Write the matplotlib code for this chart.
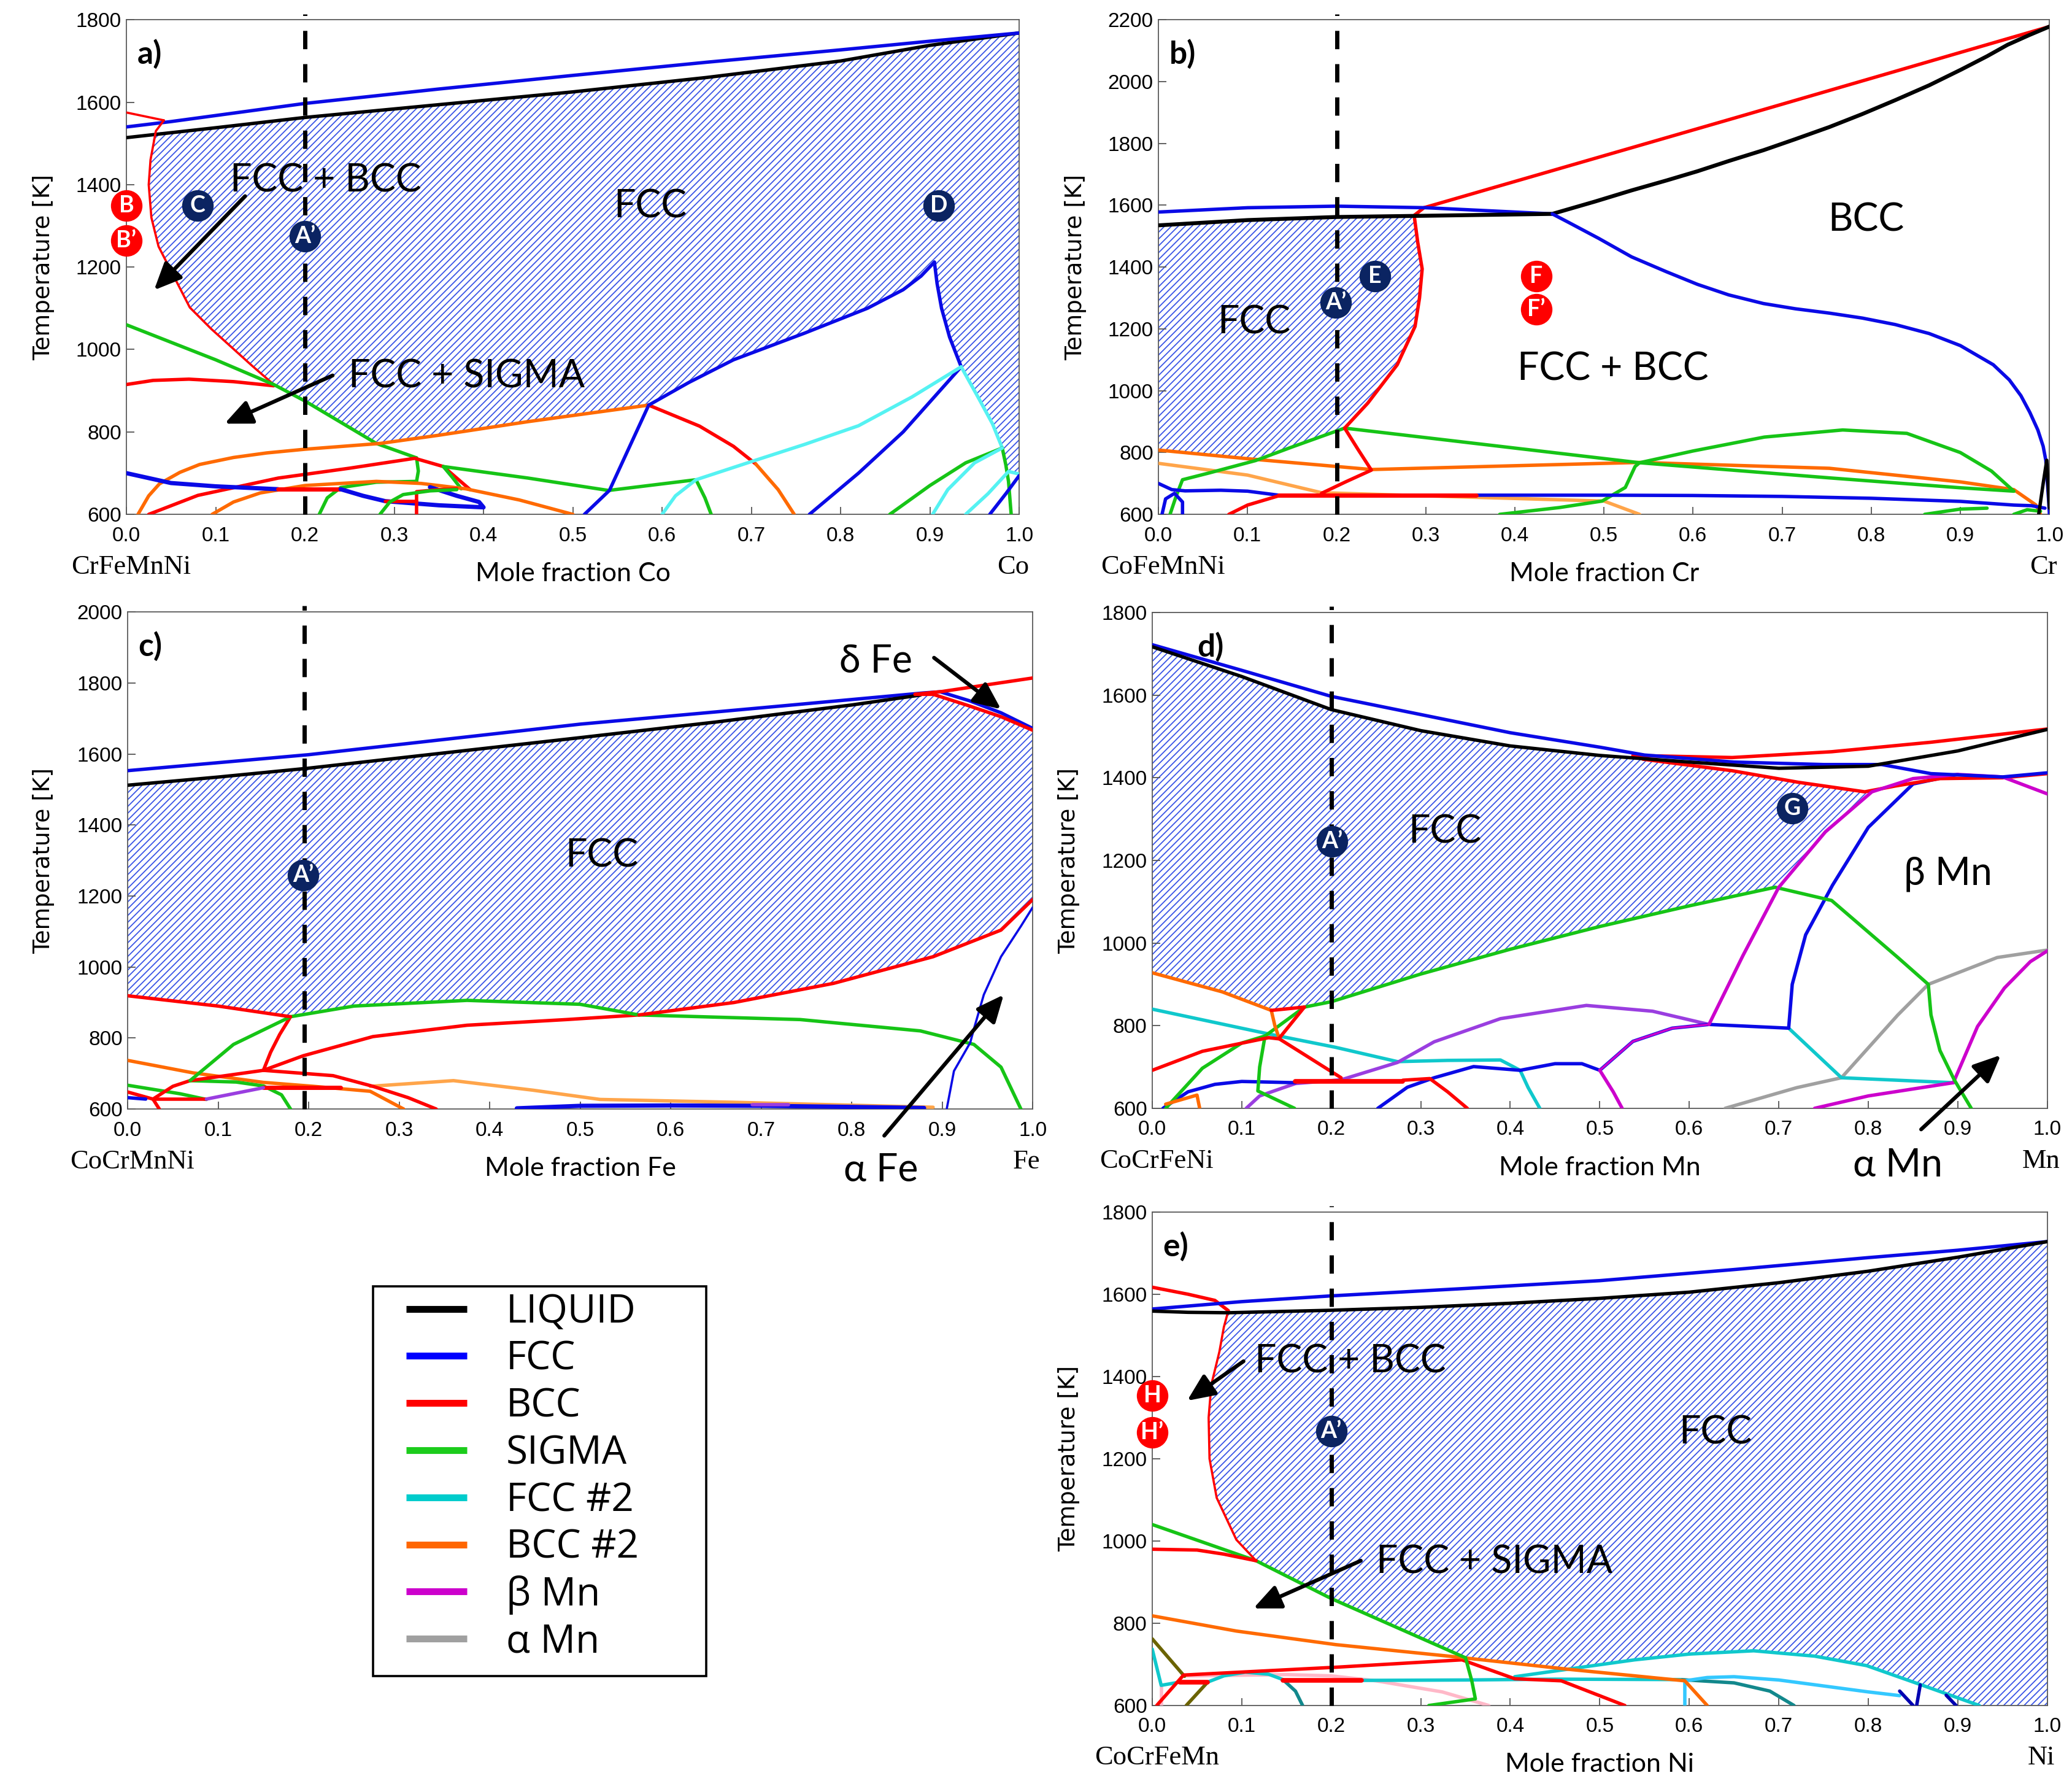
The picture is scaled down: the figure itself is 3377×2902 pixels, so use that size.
import matplotlib
matplotlib.use('Agg')
import matplotlib.pyplot as plt
from matplotlib.lines import Line2D
from matplotlib.patches import Rectangle
from matplotlib.ticker import FormatStrFormatter, MultipleLocator

# ---------------------------------------------------------------------
# values: (mole fraction, temperature K)
# ---------------------------------------------------------------------

# panel a) CrFeMnNi - Co
a_liquid = [(0, 1514), (0.1, 1538), (0.2, 1563), (0.35, 1594), (0.5, 1625), (0.65, 1660),
            (0.8, 1700), (0.9, 1738), (1, 1768)]
a_fcc_top = [(0, 1540), (0.05, 1553), (0.2, 1597), (0.35, 1632), (0.5, 1665), (0.65, 1697),
             (0.8, 1727), (0.9, 1748), (1, 1768)]
a_bcc_left = [(0, 1575), (0.042, 1556)]
a_bcc_solvus = [(0.042, 1556), (0.033, 1530), (0.027, 1460), (0.025, 1400), (0.028, 1320),
                (0.036, 1250), (0.049, 1195), (0.071, 1102), (0.095, 1050), (0.116, 1009),
                (0.14, 962), (0.165, 915)]
a_bcc_low = [(0, 915), (0.03, 925), (0.07, 928), (0.12, 922), (0.165, 912)]
a_sigma_main = [(0, 1060), (0.1, 975), (0.165, 915), (0.2, 875), (0.28, 772), (0.325, 737)]
a_sigma_vert = [(0.325, 737), (0.327, 705), (0.325, 680)]
a_sigma_arc1 = [(0.216, 600), (0.225, 640), (0.24, 665), (0.28, 678), (0.325, 680)]
a_bcc_mid = [(0.025, 600), (0.08, 646), (0.17, 688), (0.25, 712), (0.323, 736), (0.355, 716),
             (0.385, 660)]
a_sigma_right = [(0.355, 716), (0.45, 688), (0.54, 658), (0.638, 684)]
a_sigma_drop = [(0.355, 716), (0.365, 690), (0.375, 662)]
a_sigma_drop2 = [(0.638, 684), (0.648, 640), (0.655, 600)]
a_bcc2_upper = [(0.013, 600), (0.025, 645), (0.037, 674), (0.06, 702), (0.082, 721),
                (0.12, 738), (0.157, 749), (0.2, 758), (0.284, 772), (0.35, 792),
                (0.45, 825), (0.585, 865)]
a_bcc2_lower = [(0.096, 600), (0.12, 630), (0.15, 652), (0.2, 670), (0.28, 680), (0.33, 675),
                (0.38, 662), (0.44, 635), (0.5, 600)]
a_fcc_low = [(0, 700), (0.05, 676), (0.1, 668), (0.17, 661)]
a_bcc_seg = [(0.17, 661), (0.24, 661)]
a_fcc_loop = [(0.24, 661), (0.265, 645), (0.29, 632), (0.35, 622), (0.4, 617), (0.395, 630),
              (0.37, 645), (0.34, 666)]
a_bcc_small1 = [(0.29, 632), (0.325, 632)]
a_bcc_small2 = [(0.325, 600), (0.325, 655), (0.35, 660), (0.37, 662)]
a_sigma_arc2 = [(0.284, 600), (0.295, 630), (0.31, 648), (0.34, 657), (0.37, 660)]
a_fcc_mid = [(0.513, 600), (0.541, 658), (0.585, 865)]
a_bcc_arc = [(0.585, 865), (0.642, 814), (0.68, 765), (0.705, 722)]
a_bcc2_arc = [(0.705, 722), (0.73, 660), (0.748, 600)]
a_fcc_solvus = [(0.585, 865), (0.63, 920), (0.68, 975), (0.76, 1040), (0.83, 1100),
                (0.87, 1145), (0.89, 1178), (0.905, 1212)]
a_fcc_peak = [(0.905, 1212), (0.908, 1160), (0.913, 1100), (0.922, 1030), (0.935, 958)]
a_fcc_diag = [(0.935, 958), (0.87, 800), (0.82, 700), (0.765, 600)]
a_fcc2_arc = [(0.6, 600), (0.615, 645), (0.638, 684), (0.7, 728), (0.76, 770), (0.82, 815),
              (0.88, 885), (0.935, 958)]
a_fcc2_right = [(0.935, 958), (0.955, 880), (0.97, 820), (0.981, 761)]
a_sigma_arc3 = [(0.855, 600), (0.9, 670), (0.94, 725), (0.981, 761)]
a_sigma_edge = [(0.981, 761), (0.985, 720), (0.988, 680), (0.991, 600)]
a_fcc2_arc2 = [(0.903, 600), (0.92, 660), (0.95, 725), (0.981, 761)]
a_fcc2_arc3 = [(0.94, 600), (0.965, 650), (0.988, 704), (1.0, 698)]
a_fcc_edge = [(0.967, 600), (0.985, 650), (1.0, 694)]
a_fcc_region = [(0.031, 1526), (0.1, 1538), (0.2, 1563), (0.35, 1594), (0.5, 1625),
                (0.65, 1660), (0.8, 1700), (0.9, 1738), (1, 1768), (1, 698), (0.988, 704),
                (0.981, 761), (0.97, 820), (0.955, 880), (0.935, 958), (0.922, 1030),
                (0.913, 1100), (0.908, 1160), (0.905, 1212), (0.89, 1178), (0.87, 1145),
                (0.83, 1100), (0.76, 1040), (0.68, 975), (0.63, 920), (0.585, 865),
                (0.45, 825), (0.35, 792), (0.284, 772), (0.2, 875), (0.165, 915),
                (0.14, 962), (0.116, 1009), (0.095, 1050), (0.071, 1102), (0.049, 1195),
                (0.036, 1250), (0.028, 1320), (0.025, 1400), (0.027, 1460), (0.031, 1526)]
a_marks = [("B", 0.0, 1349), ("B\u2019", 0.0, 1265), ("C", 0.08, 1349),
           ("A\u2019", 0.2, 1274), ("D", 0.91, 1349)]
a_labels = [("FCC + BCC", 0.223, 1409), ("FCC", 0.587, 1347), ("FCC + SIGMA", 0.381, 935)]
a_arrows = [((0.133, 1372), (0.031, 1144)), ((0.231, 937), (0.11, 820))]

# panel b) CoFeMnNi - Cr
b_liquid = [(0, 1535), (0.1, 1552), (0.2, 1562), (0.3, 1566), (0.442, 1572), (0.49, 1612),
            (0.531, 1648), (0.57, 1680), (0.605, 1710), (0.64, 1743), (0.679, 1778),
            (0.715, 1814), (0.753, 1853), (0.79, 1895), (0.827, 1940), (0.865, 1988),
            (0.901, 2039), (0.93, 2082), (0.953, 2119), (0.977, 2150), (1, 2178)]
b_bcc_top = [(0.298, 1592), (0.65, 1885), (1, 2178)]
b_fcc_top = [(0, 1578), (0.1, 1592), (0.2, 1597), (0.3, 1592), (0.4, 1578), (0.442, 1572)]
b_bcc_solvus = [(0.298, 1592), (0.287, 1567), (0.291, 1480), (0.296, 1394), (0.293, 1300),
                (0.288, 1208), (0.268, 1084), (0.235, 960), (0.209, 879)]
b_bcc_diag = [(0.209, 879), (0.224, 810), (0.239, 743), (0.21, 705), (0.183, 668)]
b_bcc_low = [(0.135, 662), (0.357, 662)]
b_bcc_low2 = [(0.079, 600), (0.1, 630), (0.135, 660)]
b_fcc_bcc = [(0.442, 1572), (0.46, 1545), (0.494, 1493), (0.531, 1433), (0.57, 1385),
             (0.605, 1344), (0.64, 1310), (0.679, 1282), (0.715, 1265), (0.753, 1251),
             (0.79, 1235), (0.827, 1214), (0.865, 1185), (0.9, 1146), (0.937, 1084),
             (0.955, 1035), (0.968, 984), (0.978, 930), (0.987, 873), (0.993, 820),
             (0.996, 774), (0.999, 650), (1.0, 600)]
b_liq_spike = [(0.988, 600), (0.993, 700), (0.997, 775), (1.0, 620)]
b_sigma1 = [(0.013, 600), (0.02, 660), (0.027, 712), (0.057, 734), (0.109, 774), (0.15, 818),
            (0.209, 879)]
b_sigma2 = [(0.209, 879), (0.54, 767), (0.753, 718), (0.9, 686), (0.96, 675)]
b_sigma_arch = [(0.54, 767), (0.6, 805), (0.68, 850), (0.768, 873), (0.84, 862), (0.9, 800),
                (0.935, 740), (0.96, 675)]
b_sigma3 = [(0.54, 767), (0.535, 755), (0.524, 687), (0.498, 643), (0.45, 622), (0.383, 600)]
b_sigma_small1 = [(0.86, 600), (0.9, 617), (0.93, 620)]
b_sigma_small2 = [(0.96, 600), (0.975, 615), (0.99, 610)]
b_bcc2 = [(0, 808), (0.1, 780), (0.239, 745), (0.54, 768), (0.753, 749), (0.9, 705),
          (0.96, 680), (0.985, 630), (0.99, 600)]
b_bcc2_light = [(0, 765), (0.1, 727), (0.183, 670), (0.357, 655), (0.5, 643), (0.54, 600)]
b_fcc_low = [(0, 700), (0.015, 680), (0.03, 676), (0.07, 678), (0.1, 675), (0.135, 662)]
b_fcc_low2 = [(0.357, 662), (0.5, 662), (0.6, 661), (0.7, 658), (0.8, 652), (0.9, 642),
              (0.96, 630), (0.98, 628), (0.995, 620)]
b_fcc_loop = [(0.004, 600), (0.008, 650), (0.018, 668), (0.027, 640), (0.027, 600)]
b_fcc_region = [(0, 1535), (0.1, 1552), (0.2, 1562), (0.287, 1566), (0.291, 1480),
                (0.296, 1394), (0.293, 1300), (0.288, 1208), (0.268, 1084), (0.235, 960),
                (0.209, 879), (0.15, 818), (0.1, 774), (0.09, 783), (0, 808)]
b_marks = [("A\u2019", 0.199, 1285), ("E", 0.243, 1371), ("F", 0.424, 1371),
           ("F\u2019", 0.424, 1264)]
b_labels = [("FCC", 0.107, 1220), ("BCC", 0.794, 1553), ("FCC + BCC", 0.51, 1069)]

# panel c) CoCrMnNi - Fe
c_liquid = [(0, 1512), (0.1, 1535), (0.2, 1560), (0.35, 1603), (0.5, 1646), (0.65, 1690),
            (0.8, 1738), (0.876, 1766)]
c_fcc_top = [(0, 1553), (0.2, 1598), (0.5, 1684), (0.7, 1730), (0.88, 1772), (0.898, 1775),
             (0.93, 1750), (0.965, 1716), (1, 1672)]
c_bcc_top = [(0.87, 1768), (0.9, 1776), (1, 1814)]
c_bcc_delta = [(0.87, 1768), (0.89, 1768), (0.928, 1737), (0.965, 1705), (1, 1667)]
c_bcc_low = [(0, 919), (0.1, 890), (0.18, 860)]
c_bcc_fcc = [(0.565, 865), (0.67, 900), (0.78, 954), (0.89, 1029), (0.965, 1104), (1, 1190)]
c_sigma_arch = [(0.18, 860), (0.25, 890), (0.375, 906), (0.5, 895), (0.565, 865)]
c_sigma_right = [(0.565, 865), (0.743, 852), (0.876, 820), (0.935, 782), (0.965, 718),
                 (0.987, 600)]
c_sigma_left = [(0.069, 680), (0.117, 782), (0.18, 860)]
c_bcc_inner = [(0.15, 709), (0.158, 760), (0.168, 810), (0.18, 860)]
c_bcc_curve = [(0.15, 709), (0.194, 750), (0.271, 804), (0.375, 836), (0.485, 852),
               (0.565, 865)]
c_bcc_drop = [(0.15, 709), (0.227, 694), (0.271, 664), (0.31, 632), (0.341, 600)]
c_bcc_left = [(0, 648), (0.028, 628), (0.05, 664), (0.069, 680), (0.15, 709)]
c_bcc_seg1 = [(0.028, 628), (0.087, 628)]
c_bcc_seg2 = [(0.15, 660), (0.235, 660)]
c_bcc_v = [(0.028, 628), (0.035, 600)]
c_bcc2 = [(0, 737), (0.072, 702), (0.15, 675), (0.205, 664), (0.268, 650), (0.305, 600)]
c_bcc2_light = [(0.268, 664), (0.36, 680), (0.448, 653), (0.522, 627), (0.67, 619),
                (0.89, 605)]
c_sigma_low = [(0, 667), (0.058, 643), (0.087, 627)]
c_sigma_arc = [(0.069, 680), (0.12, 676), (0.15, 665), (0.17, 640), (0.18, 600)]
c_betamn1 = [(0.087, 628), (0.15, 660)]
c_betamn2 = [(0.69, 612), (0.73, 612)]
c_fcc_bottom = [(0.43, 602), (0.5, 609), (0.6, 610), (0.7, 609), (0.8, 606), (0.88, 603)]
c_fcc_low = [(0, 632), (0.02, 628)]
c_fcc_alpha = [(0.905, 600), (0.913, 707), (0.931, 787), (0.935, 825), (0.946, 922),
               (0.965, 1029), (0.987, 1115), (1, 1168)]
c_fcc_region = [(0, 1512), (0.1, 1535), (0.2, 1560), (0.35, 1603), (0.5, 1646), (0.65, 1690),
                (0.8, 1738), (0.876, 1766), (0.89, 1768), (0.928, 1737), (0.965, 1705),
                (1, 1667), (1, 1190), (0.965, 1104), (0.89, 1029), (0.78, 954), (0.67, 900),
                (0.565, 865), (0.5, 895), (0.375, 906), (0.25, 890), (0.18, 860),
                (0.1, 890), (0, 919)]
c_marks = [("A\u2019", 0.194, 1258)]
c_labels = [("FCC", 0.524, 1313), ("\u03b4 Fe", 0.827, 1861), ("\u03b1 Fe", 0.832, 428)]
c_arrows = [((0.891, 1871), (0.965, 1726)), ((0.836, 525), (0.968, 922))]

# panel d) CoCrFeNi - Mn
d_liquid = [(0, 1717), (0.1, 1645), (0.2, 1565), (0.3, 1514), (0.4, 1477), (0.5, 1454),
            (0.6, 1438), (0.7, 1423), (0.8, 1428), (0.9, 1465), (1, 1517)]
d_fcc_top = [(0, 1722), (0.1, 1660), (0.2, 1597), (0.3, 1553), (0.4, 1509), (0.5, 1474),
             (0.55, 1455), (0.65, 1438), (0.75, 1432), (0.815, 1432), (0.87, 1410),
             (0.95, 1402), (1, 1412)]
d_bcc_upper = [(0.537, 1454), (0.648, 1449), (0.759, 1463), (0.87, 1486), (1, 1518)]
d_bcc_lower = [(0.548, 1445), (0.648, 1417), (0.722, 1389), (0.796, 1366), (0.83, 1380),
               (0.88, 1398), (0.95, 1400), (1, 1410)]
d_betamn_main = [(0.622, 803), (0.66, 970), (0.7, 1135), (0.752, 1269), (0.804, 1366),
                 (0.85, 1398), (0.9, 1408), (0.95, 1402), (1, 1361)]
d_betamn_right = [(0.895, 662), (0.922, 798), (0.952, 891), (0.981, 955), (1, 981)]
d_betamn_low = [(0.74, 600), (0.8, 630), (0.895, 662)]
d_betamn_mid = [(0.5, 692), (0.537, 762), (0.581, 794), (0.622, 803)]
d_betamn_drop = [(0.5, 692), (0.515, 640), (0.525, 600)]
d_purple_arch = [(0.211, 669), (0.274, 711), (0.315, 761), (0.389, 817), (0.485, 849),
                 (0.559, 835), (0.622, 803)]
d_purple_left = [(0.105, 600), (0.12, 630), (0.16, 660), (0.211, 669)]
d_fcc_arch1 = [(0.252, 600), (0.285, 651), (0.315, 674), (0.359, 701), (0.411, 692)]
d_fcc_arch2 = [(0.411, 692), (0.45, 708), (0.48, 708), (0.5, 692)]
d_fcc_arch3 = [(0.5, 692), (0.537, 762), (0.581, 794), (0.622, 803), (0.711, 794)]
d_fcc_up = [(0.711, 794), (0.715, 900), (0.73, 1020), (0.76, 1140), (0.8, 1280),
            (0.85, 1385), (0.9, 1408)]
d_fcc_left = [(0.012, 600), (0.04, 640), (0.07, 658), (0.1, 665), (0.16, 662)]
d_sigma_main = [(0.17, 845), (0.2, 858), (0.3, 925), (0.4, 985), (0.5, 1040), (0.6, 1090),
                (0.696, 1135), (0.759, 1103), (0.833, 965), (0.867, 900), (0.87, 826),
                (0.88, 740), (0.896, 669), (0.915, 600)]
d_sigma_left = [(0.015, 600), (0.056, 697), (0.1, 758), (0.126, 775), (0.17, 845)]
d_sigma_vert = [(0.126, 775), (0.12, 700), (0.118, 642), (0.159, 600)]
d_bcc2 = [(0, 928), (0.078, 882), (0.133, 837)]
d_bcc2_v = [(0.133, 837), (0.137, 800), (0.142, 768)]
d_bcc2_small = [(0.015, 610), (0.05, 632), (0.053, 600)]
d_bcc_a = [(0.133, 837), (0.17, 845)]
d_bcc_b = [(0, 692), (0.056, 738), (0.13, 771), (0.142, 768), (0.17, 730), (0.211, 674)]
d_bcc_c = [(0.142, 770), (0.17, 845)]
d_bcc_thick = [(0.16, 665), (0.28, 665)]
d_bcc_drop = [(0.28, 668), (0.31, 672), (0.33, 640), (0.352, 600)]
d_fcc2 = [(0, 840), (0.13, 780), (0.204, 748), (0.274, 713), (0.33, 716), (0.389, 717),
          (0.411, 692), (0.42, 650), (0.433, 600)]
d_fcc2_right = [(0.711, 794), (0.77, 674), (0.895, 662)]
d_alphamn = [(0.77, 674), (0.833, 826), (0.867, 900), (0.944, 965), (1, 983)]
d_alphamn_low = [(0.64, 600), (0.68, 625), (0.72, 650), (0.77, 674)]
d_fcc_region = [(0, 1717), (0.1, 1645), (0.2, 1565), (0.3, 1514), (0.4, 1477), (0.5, 1454),
                (0.548, 1445), (0.648, 1417), (0.722, 1389), (0.796, 1366), (0.804, 1366),
                (0.752, 1269), (0.7, 1135), (0.6, 1090), (0.5, 1040), (0.4, 985),
                (0.3, 925), (0.2, 858), (0.17, 845), (0.133, 837), (0.078, 882), (0, 928)]
d_marks = [("A\u2019", 0.201, 1246), ("G", 0.715, 1326)]
d_labels = [("FCC", 0.327, 1269), ("\u03b2 Mn", 0.889, 1168), ("\u03b1 Mn", 0.833, 462)]
d_arrows = [((0.859, 549), (0.948, 729))]

# panel e) CoCrFeMn - Ni
e_liquid = [(0, 1559), (0.04, 1556), (0.085, 1555), (0.2, 1561), (0.3, 1568), (0.4, 1578),
            (0.5, 1590), (0.6, 1605), (0.7, 1628), (0.8, 1656), (0.9, 1690), (1, 1728)]
e_fcc_top = [(0, 1564), (0.1, 1582), (0.2, 1596), (0.35, 1614), (0.5, 1633), (0.65, 1660),
             (0.8, 1689), (0.9, 1707), (1, 1728)]
e_bcc_left = [(0, 1617), (0.04, 1600), (0.07, 1585), (0.085, 1560)]
e_bcc_solvus = [(0.085, 1560), (0.08, 1520), (0.075, 1460), (0.066, 1380), (0.063, 1300),
                (0.064, 1200), (0.072, 1105), (0.094, 1003), (0.116, 952)]
e_bcc_low = [(0, 980), (0.05, 978), (0.08, 968), (0.116, 952)]
e_sigma = [(0, 1040), (0.116, 952), (0.2, 860), (0.35, 716), (0.357, 660), (0.361, 616),
           (0.309, 600)]
e_bcc2 = [(0, 818), (0.094, 781), (0.205, 748), (0.331, 720), (0.465, 688), (0.595, 660),
          (0.62, 600)]
e_bcc_mid = [(0.005, 600), (0.035, 674), (0.205, 693), (0.346, 711), (0.405, 665),
             (0.457, 660), (0.528, 600)]
e_bcc_thick1 = [(0.031, 657), (0.062, 657)]
e_bcc_thick2 = [(0.146, 661), (0.234, 661)]
e_fcc2_left = [(0, 737), (0.01, 649), (0.031, 657)]
e_fcc2_arch = [(0.062, 657), (0.08, 672), (0.104, 681), (0.13, 676), (0.146, 663)]
e_fcc2_line = [(0.234, 661), (0.35, 662), (0.45, 664), (0.59, 663)]
e_fcc2_arch2 = [(0.405, 670), (0.47, 690), (0.539, 711), (0.6, 725), (0.672, 733),
                (0.74, 720), (0.798, 697), (0.858, 651), (0.924, 600)]
e_teal1 = [(0.146, 663), (0.16, 635), (0.168, 600)]
e_teal2 = [(0.59, 663), (0.65, 655), (0.69, 635), (0.717, 600)]
e_lightblue = [(0.595, 600), (0.595, 660), (0.62, 668), (0.65, 670), (0.7, 662), (0.8, 633),
               (0.835, 624)]
e_olive1 = [(0, 762), (0.036, 671)]
e_olive2 = [(0.062, 657), (0.038, 600)]
e_pink = [(0.036, 672), (0.15, 675), (0.2, 672), (0.25, 660), (0.324, 633), (0.376, 600)]
e_pink_v = [(0.01, 649), (0.01, 600)]
e_darkblue1 = [(0.835, 635), (0.85, 600)]
e_darkblue2 = [(0.858, 650), (0.854, 600)]
e_darkblue3 = [(0.887, 625), (0.898, 600)]
e_fcc_region = [(0.085, 1555), (0.2, 1561), (0.3, 1568), (0.4, 1578), (0.5, 1590),
                (0.6, 1605), (0.7, 1628), (0.8, 1656), (0.9, 1690), (1, 1728), (1, 600),
                (0.924, 600), (0.858, 651), (0.798, 697), (0.74, 720), (0.672, 733),
                (0.6, 725), (0.539, 711), (0.47, 690), (0.465, 688), (0.4, 703),
                (0.345, 717), (0.2, 860), (0.116, 952), (0.094, 1003), (0.072, 1105),
                (0.064, 1200), (0.063, 1300), (0.066, 1380), (0.075, 1460), (0.08, 1520),
                (0.085, 1555)]
e_marks = [("H", 0.0, 1353), ("H\u2019", 0.0, 1264), ("A\u2019", 0.2, 1267)]
e_labels = [("FCC + BCC", 0.221, 1437), ("FCC", 0.629, 1263), ("FCC + SIGMA", 0.382, 949)]
e_arrows = [((0.102, 1437), (0.039, 1341)), ((0.233, 952), (0.113, 836))]

legend_names = ["LIQUID", "FCC", "BCC", "SIGMA", "FCC #2", "BCC #2", "\u03b2 Mn", "\u03b1 Mn"]
legend_colors = ["#000000", "#0000ff", "#ff0000", "#1ccc1c", "#00cccc", "#ff6600",
                 "#cc00cc", "#a0a0a0"]

# ---------------------------------------------------------------------
# styling
# ---------------------------------------------------------------------
BLACK = "#000000"
BLUE = "#0a0ae6"
RED = "#ff0000"
GREEN = "#16c416"
CYAN_A = "#55f2f2"
CYAN = "#10c8cc"
ORANGE = "#ff6a00"
LORANGE = "#ffa54a"
MAGENTA = "#cc00cc"
PURPLE = "#9a3ee0"
GRAY = "#a0a0a0"
TEAL = "#12888c"
LBLUE = "#33c8ff"
OLIVE = "#6b6300"
PINK = "#ffb8c8"
DBLUE = "#0000b0"
NAVY = "#0b2462"
HATCH = "#3a55e6"
LW = 4.0
THIN = 2.6

plt.rcParams['font.family'] = ['Lato', 'DejaVu Sans']
plt.rcParams['hatch.linewidth'] = 1.3

fig = plt.figure(figsize=(33.77, 29.02), dpi=100)


def curve(ax, pts, color, lw=LW):
    xs = [p[0] for p in pts]
    ts = [p[1] for p in pts]
    ax.plot(xs, ts, color=color, lw=lw, solid_capstyle='round',
            solid_joinstyle='round', zorder=3)


def region(ax, pts):
    xs = [p[0] for p in pts]
    ts = [p[1] for p in pts]
    ax.fill(xs, ts, facecolor='none', edgecolor=HATCH, hatch='///', lw=0, zorder=1)


def setup(ax, tmax, base, element, tag, xdash=0.2, tagx=0.012):
    ax.set_xlim(0, 1)
    ax.set_ylim(600, tmax)
    ax.xaxis.set_major_locator(MultipleLocator(0.1))
    ax.xaxis.set_major_formatter(FormatStrFormatter('%.1f'))
    ax.yaxis.set_major_locator(MultipleLocator(200))
    ax.tick_params(direction='in', length=9, width=1.3, color='#555555',
                   labelsize=24, top=False, right=False)
    ax.tick_params(axis='x', pad=14)
    ax.tick_params(axis='y', pad=6)
    for lab in ax.get_xticklabels() + ax.get_yticklabels():
        lab.set_family('Liberation Sans')
    for sp in ax.spines.values():
        sp.set_color('#5a5a5a')
        sp.set_linewidth(1.3)
    ax.text(-0.093, 0.5, 'Temperature [K]', rotation=90, ha='center', va='center',
            fontsize=27, family='DejaVu Sans', transform=ax.transAxes)
    ax.text(0.5, -0.12, 'Mole fraction ' + element, ha='center', va='center',
            fontsize=31, transform=ax.transAxes)
    ax.text(0.005, -0.106, base, ha='center', va='center', fontsize=32,
            family='Liberation Serif', transform=ax.transAxes)
    ax.text(0.993, -0.106, element, ha='center', va='center', fontsize=32,
            family='Liberation Serif', transform=ax.transAxes)
    ax.text(tagx, 0.93, tag, ha='left', va='center', fontsize=37, fontweight='bold',
            transform=ax.transAxes, zorder=8)
    ax.axvline(xdash, ymax=1.012, color='k', lw=5, ls=(0, (4.3, 3.5)), zorder=5,
               clip_on=False)


def decorate(ax, marks, labels, arrows):
    for name, x, t in marks:
        col = RED if name[0] in "BFH" else NAVY
        ax.plot([x], [t], 'o', ms=37, mfc=col, mec='none', zorder=6, clip_on=False)
        ax.text(x, t, name, ha='center', va='center', color='white', fontsize=27,
                fontweight='bold', zorder=7)
    for text, x, t in labels:
        ax.text(x, t, text, ha='center', va='center', fontsize=45, zorder=6,
                clip_on=False)
    for tail, head in arrows:
        ax.annotate('', xy=head, xytext=tail, annotation_clip=False, zorder=6,
                    arrowprops=dict(arrowstyle='-|>,head_length=0.9,head_width=0.4',
                                    lw=4.5, color='k', shrinkA=0, shrinkB=0,
                                    mutation_scale=30))


# ---- a)
ax = fig.add_axes([0.0610, 0.7112, 0.4309, 0.2777])
region(ax, a_fcc_region)
for pts, col, lw in [
        (a_liquid, BLACK, LW), (a_fcc_top, BLUE, LW), (a_bcc_left, RED, THIN),
        (a_bcc_solvus, RED, THIN), (a_bcc_low, RED, LW), (a_sigma_main, GREEN, LW),
        (a_sigma_vert, GREEN, LW), (a_sigma_arc1, GREEN, LW), (a_bcc_mid, RED, LW),
        (a_sigma_right, GREEN, LW), (a_sigma_drop, GREEN, LW), (a_sigma_drop2, GREEN, LW),
        (a_bcc2_upper, ORANGE, LW), (a_bcc2_lower, ORANGE, LW), (a_fcc_low, BLUE, 5),
        (a_bcc_seg, RED, 5), (a_fcc_loop, BLUE, 5), (a_bcc_small1, RED, LW),
        (a_bcc_small2, RED, LW), (a_sigma_arc2, GREEN, LW), (a_fcc_mid, BLUE, LW),
        (a_bcc_arc, RED, LW), (a_bcc2_arc, ORANGE, LW), (a_fcc_solvus, BLUE, LW),
        (a_fcc_peak, BLUE, LW), (a_fcc_diag, BLUE, LW), (a_fcc2_arc, CYAN_A, LW),
        (a_fcc2_right, CYAN_A, LW), (a_sigma_arc3, GREEN, LW), (a_sigma_edge, GREEN, LW),
        (a_fcc2_arc2, CYAN_A, LW), (a_fcc2_arc3, CYAN_A, LW), (a_fcc_edge, BLUE, LW)]:
    curve(ax, pts, col, lw)
setup(ax, 1800, 'CrFeMnNi', 'Co', 'a)')
decorate(ax, a_marks, a_labels, a_arrows)

# ---- b)
ax = fig.add_axes([0.5591, 0.7112, 0.4300, 0.2777])
region(ax, b_fcc_region)
for pts, col, lw in [
        (b_bcc2_light, LORANGE, LW), (b_bcc2, ORANGE, LW), (b_sigma1, GREEN, LW),
        (b_sigma2, GREEN, LW), (b_sigma_arch, GREEN, LW), (b_sigma3, GREEN, LW),
        (b_sigma_small1, GREEN, LW), (b_sigma_small2, GREEN, LW), (b_fcc_low, BLUE, LW),
        (b_fcc_low2, BLUE, LW), (b_fcc_loop, BLUE, LW), (b_bcc_low, RED, 5),
        (b_bcc_low2, RED, LW), (b_bcc_diag, RED, LW), (b_bcc_solvus, RED, LW),
        (b_bcc_top, RED, LW), (b_fcc_top, BLUE, LW), (b_liquid, BLACK, 4.6),
        (b_fcc_bcc, BLUE, LW), (b_liq_spike, BLACK, LW)]:
    curve(ax, pts, col, lw)
setup(ax, 2200, 'CoFeMnNi', 'Cr', 'b)')
decorate(ax, b_marks, b_labels, [])

# ---- c)
ax = fig.add_axes([0.0616, 0.3773, 0.4368, 0.2791])
region(ax, c_fcc_region)
for pts, col, lw in [
        (c_bcc2_light, LORANGE, LW), (c_bcc2, ORANGE, LW), (c_fcc_bottom, BLUE, 5),
        (c_betamn2, PURPLE, LW), (c_sigma_low, GREEN, LW), (c_sigma_arc, GREEN, LW),
        (c_bcc_left, RED, LW), (c_bcc_seg1, RED, LW), (c_bcc_seg2, RED, 5),
        (c_bcc_v, RED, LW), (c_betamn1, PURPLE, LW), (c_fcc_low, BLUE, LW),
        (c_bcc_drop, RED, LW), (c_bcc_curve, RED, LW), (c_bcc_inner, RED, LW),
        (c_sigma_left, GREEN, LW), (c_sigma_arch, GREEN, LW), (c_sigma_right, GREEN, LW),
        (c_bcc_low, RED, LW), (c_bcc_fcc, RED, LW), (c_fcc_alpha, BLUE, THIN),
        (c_fcc_top, BLUE, LW), (c_liquid, BLACK, LW), (c_bcc_top, RED, LW),
        (c_bcc_delta, RED, LW)]:
    curve(ax, pts, col, lw)
setup(ax, 2000, 'CoCrMnNi', 'Fe', 'c)', xdash=0.195)
decorate(ax, c_marks, c_labels, c_arrows)

# ---- d)
ax = fig.add_axes([0.5561, 0.3777, 0.4320, 0.2784])
region(ax, d_fcc_region)
for pts, col, lw in [
        (d_alphamn_low, GRAY, LW), (d_alphamn, GRAY, LW), (d_fcc2, CYAN, LW),
        (d_fcc2_right, CYAN, LW), (d_purple_left, PURPLE, LW), (d_purple_arch, PURPLE, LW),
        (d_fcc_left, BLUE, LW), (d_fcc_arch1, BLUE, LW), (d_fcc_arch2, BLUE, LW),
        (d_fcc_arch3, BLUE, LW), (d_betamn_mid, MAGENTA, THIN), (d_betamn_drop, MAGENTA, LW),
        (d_betamn_low, MAGENTA, LW), (d_betamn_right, MAGENTA, LW), (d_fcc_up, BLUE, LW),
        (d_sigma_left, GREEN, LW), (d_sigma_vert, GREEN, LW), (d_sigma_main, GREEN, LW),
        (d_bcc2, ORANGE, LW), (d_bcc2_v, ORANGE, LW), (d_bcc2_small, ORANGE, LW),
        (d_bcc_a, RED, LW), (d_bcc_b, RED, LW), (d_bcc_c, RED, LW),
        (d_bcc_thick, RED, 5.5), (d_bcc_drop, RED, LW), (d_bcc_upper, RED, LW),
        (d_bcc_lower, RED, LW), (d_betamn_main, MAGENTA, LW), (d_fcc_top, BLUE, LW),
        (d_liquid, BLACK, LW)]:
    curve(ax, pts, col, lw)
setup(ax, 1800, 'CoCrFeNi', 'Mn', 'd)', tagx=0.05)
decorate(ax, d_marks, d_labels, d_arrows)

# ---- e)
ax = fig.add_axes([0.5561, 0.0424, 0.4320, 0.2771])
region(ax, e_fcc_region)
for pts, col, lw in [
        (e_pink, PINK, LW), (e_pink_v, PINK, LW), (e_olive1, OLIVE, LW),
        (e_olive2, OLIVE, LW), (e_teal1, TEAL, LW), (e_teal2, TEAL, LW),
        (e_lightblue, LBLUE, LW), (e_fcc2_left, CYAN, LW), (e_fcc2_arch, CYAN, LW),
        (e_fcc2_line, CYAN, LW), (e_fcc2_arch2, CYAN, LW), (e_bcc_mid, RED, LW),
        (e_bcc_thick1, RED, 5.5), (e_bcc_thick2, RED, 5.5), (e_bcc2, ORANGE, LW),
        (e_sigma, GREEN, LW), (e_bcc_low, RED, LW), (e_bcc_left, RED, LW),
        (e_bcc_solvus, RED, THIN), (e_darkblue1, DBLUE, LW), (e_darkblue2, DBLUE, LW),
        (e_darkblue3, DBLUE, LW), (e_fcc_top, BLUE, LW), (e_liquid, BLACK, LW)]:
    curve(ax, pts, col, lw)
setup(ax, 1800, 'CoCrFeMn', 'Ni', 'e)')
decorate(ax, e_marks, e_labels, e_arrows)

# ---- legend (frame drawn as its own box so the padding matches)
fig.patches.append(Rectangle((608 / 3377, 1 - 2731 / 2902), 543 / 3377, 635 / 2902,
                             transform=fig.transFigure, fill=False, lw=2.6,
                             edgecolor='black', zorder=10))
handles = [Line2D([], [], color=c, lw=8, solid_capstyle='butt') for c in legend_colors]
fig.legend(handles, legend_names, loc='upper left',
           bbox_to_anchor=(662 / 3377, 1 - 2106 / 2902), borderaxespad=0,
           prop={'family': 'Open Sans', 'size': 46}, handlelength=1.55,
           handletextpad=1.0, labelspacing=0.2, borderpad=0, frameon=False)

fig.savefig('out.png', dpi=100)
